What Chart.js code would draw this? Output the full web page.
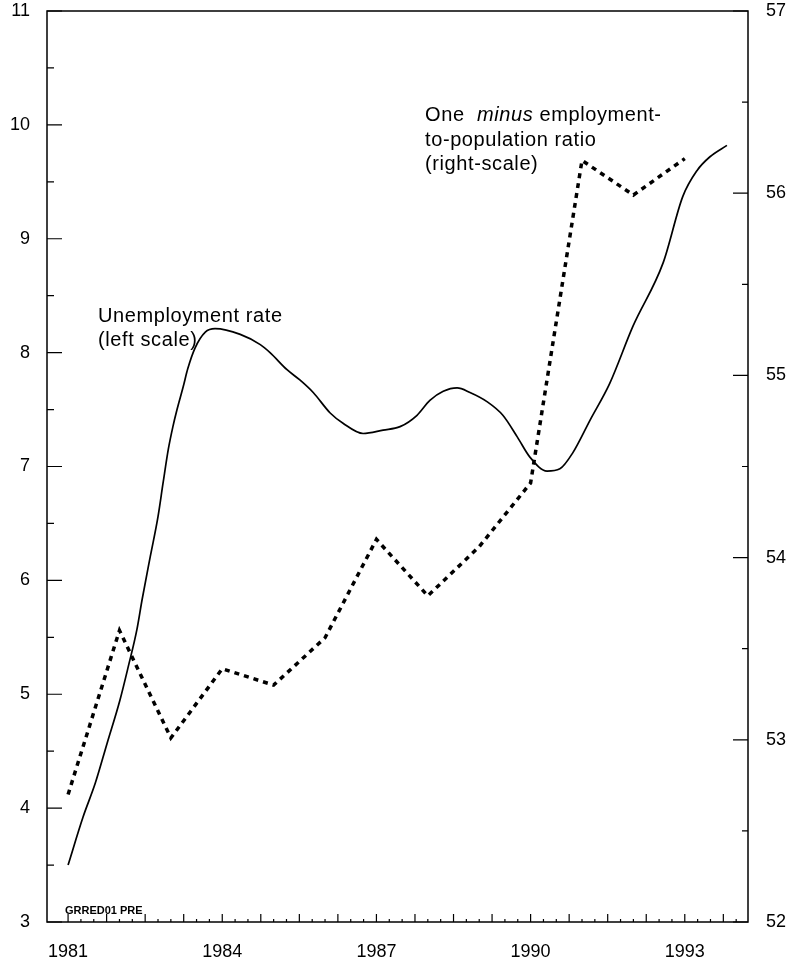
<!DOCTYPE html>
<html>
<head>
<meta charset="utf-8">
<script src="https://cdn.jsdelivr.net/npm/chart.js@4.4.0/dist/chart.umd.min.js"></script>
<style>
  html, body { margin: 0; padding: 0; background: #fff; }
  #wrap { width: 796px; height: 963px; }
</style>
</head>
<body>
<div id="wrap"><canvas id="myChart" width="796" height="963"></canvas></div>
<script>
// Unemployment rate (left scale)
const unempYears = [
  1981.00, 1981.29, 1981.53, 1981.76, 1982.01, 1982.17, 1982.34, 1982.44, 1982.60, 1982.75,
  1982.85, 1982.95, 1983.04, 1983.12, 1983.24, 1983.33, 1983.47, 1983.67, 1983.86, 1984.35,
  1984.74, 1984.93, 1985.26, 1985.51, 1985.77, 1986.10, 1986.35, 1986.74, 1987.13, 1987.46,
  1987.79, 1988.04, 1988.30, 1988.57, 1988.82, 1989.15, 1989.46, 1989.74, 1989.99, 1990.32,
  1990.57, 1990.82, 1991.16, 1991.54, 1991.99, 1992.58, 1992.96, 1993.24, 1993.49, 1993.82
];
const unempRate = [
  3.50, 3.92, 4.22, 4.57, 4.95, 5.24, 5.57, 5.83, 6.21, 6.56,
  6.86, 7.15, 7.35, 7.50, 7.70, 7.86, 8.04, 8.18, 8.21, 8.16,
  8.07, 8.00, 7.85, 7.76, 7.65, 7.47, 7.38, 7.29, 7.32, 7.35,
  7.45, 7.58, 7.66, 7.69, 7.65, 7.57, 7.45, 7.26, 7.08, 6.96,
  6.98, 7.12, 7.41, 7.73, 8.23, 8.79, 9.37, 9.60, 9.72, 9.82
];

// One minus employment-to-population ratio (right scale), annual
const ratioYears = [1981, 1982, 1983, 1984, 1985, 1986, 1987, 1988, 1989, 1990, 1991, 1992, 1993];
const ratioValues = [52.70, 53.60, 53.01, 53.39, 53.30, 53.56, 54.10, 53.79, 54.06, 54.41, 56.18, 55.99, 56.19];

// tick labels
const yearLabels = [1981, 1984, 1987, 1990, 1993];
const leftRange = [3, 11];
const rightRange = [52, 57];
const xRange = [1980.59, 1994.23];

const FONT = '"Liberation Sans", Arial, sans-serif';

// no extra room for overhanging tick labels
function noPad(s) {
  s.paddingTop = 0; s.paddingBottom = 0;
  s.paddingLeft = 0; s.paddingRight = 0;
}

// frame + inward ticks, drawn through the scales
const frameTicks = {
  id: 'frameTicks',
  beforeDatasetsDraw(chart) {
    const ctx = chart.ctx;
    const a = chart.chartArea;
    const x = chart.scales.x, y = chart.scales.y, y1 = chart.scales.y1;
    ctx.save();
    ctx.strokeStyle = '#000';
    ctx.lineWidth = 1.5;
    ctx.strokeRect(a.left, a.top, a.right - a.left, a.bottom - a.top);
    ctx.lineWidth = 1.2;
    ctx.beginPath();
    for (let v = leftRange[0]; v <= leftRange[1]; v += 0.5) {
      const py = y.getPixelForValue(v);
      const len = Number.isInteger(v) ? 15 : 7;
      ctx.moveTo(a.left, py); ctx.lineTo(a.left + len, py);
    }
    for (let v = rightRange[0]; v <= rightRange[1]; v += 0.5) {
      const py = y1.getPixelForValue(v);
      const len = Number.isInteger(v) ? 15 : 6;
      ctx.moveTo(a.right, py); ctx.lineTo(a.right - len, py);
    }
    // quarterly ticks, taller every third quarter
    for (let k = 0; 1981 + k * 0.25 <= 1994; k++) {
      const px = x.getPixelForValue(1981 + k * 0.25);
      const len = k % 3 === 0 ? 8 : 3;
      ctx.moveTo(px, a.bottom); ctx.lineTo(px, a.bottom - len);
    }
    ctx.stroke();
    ctx.restore();
  }
};

// text notes
const notes = {
  id: 'notes',
  afterDraw(chart) {
    const ctx = chart.ctx;
    ctx.save();
    ctx.fillStyle = '#000';
    ctx.textBaseline = 'alphabetic';
    ctx.textAlign = 'left';
    if ('letterSpacing' in ctx) ctx.letterSpacing = '0.6px';

    ctx.font = '20px ' + FONT;
    ctx.fillText('Unemployment rate', 98, 322);
    ctx.fillText('(left scale)', 98, 346);

    // One minus employment-
    let px = 425;
    ctx.font = '20px ' + FONT;
    ctx.fillText('One  ', px, 121);
    px += ctx.measureText('One  ').width;
    ctx.font = 'italic 20px ' + FONT;
    ctx.fillText('minus', px, 121);
    px += ctx.measureText('minus').width;
    ctx.font = '20px ' + FONT;
    ctx.fillText(' employment-', px, 121);
    ctx.fillText('to-population ratio', 425, 146);
    ctx.fillText('(right-scale)', 425, 170);

    if ('letterSpacing' in ctx) ctx.letterSpacing = '0px';
    ctx.font = 'bold 11px ' + FONT;
    ctx.fillText('GRRED01 PRE', 65, 914);
    ctx.restore();
  }
};

const data = {
  datasets: [
    {
      label: 'Unemployment rate',
      data: unempYears.map((t, i) => ({ x: t, y: unempRate[i] })),
      yAxisID: 'y',
      borderColor: '#000',
      borderWidth: 1.7,
      pointRadius: 0,
      cubicInterpolationMode: 'monotone',
      fill: false
    },
    {
      label: 'One minus employment-to-population ratio',
      data: ratioYears.map((t, i) => ({ x: t, y: ratioValues[i] })),
      yAxisID: 'y1',
      borderColor: '#000',
      borderWidth: 3.5,
      borderDash: [5, 5],
      pointRadius: 0,
      tension: 0,
      fill: false
    }
  ]
};

const config = {
  type: 'line',
  data: data,
  options: {
    responsive: false,
    animation: false,
    layout: { padding: { top: 11, left: 0, right: 0, bottom: 0 } },
    plugins: {
      legend: { display: false },
      tooltip: { enabled: false }
    },
    scales: {
      x: {
        type: 'linear',
        min: xRange[0],
        max: xRange[1],
        grid: { display: false, drawTicks: false },
        border: { display: false },
        afterBuildTicks: (s) => { s.ticks = yearLabels.map(v => ({ value: v })); },
        afterFit: (s) => { s.height = 41; noPad(s); },
        ticks: {
          color: '#000',
          padding: 19,
          maxRotation: 0,
          font: { family: FONT, size: 18 },
          callback: (v) => String(v)
        }
      },
      y: {
        position: 'left',
        min: leftRange[0],
        max: leftRange[1],
        grid: { display: false, drawTicks: false },
        border: { display: false },
        afterFit: (s) => { s.width = 47; noPad(s); },
        ticks: {
          stepSize: 1,
          color: '#000',
          padding: 17,
          font: { family: FONT, size: 18 }
        }
      },
      y1: {
        position: 'right',
        min: rightRange[0],
        max: rightRange[1],
        grid: { display: false, drawTicks: false },
        border: { display: false },
        afterFit: (s) => { s.width = 48; noPad(s); },
        ticks: {
          stepSize: 1,
          color: '#000',
          padding: 18,
          font: { family: FONT, size: 18 }
        }
      }
    }
  },
  plugins: [frameTicks, notes]
};

const myChart = new Chart(document.getElementById('myChart'), config);
</script>
</body>
</html>
